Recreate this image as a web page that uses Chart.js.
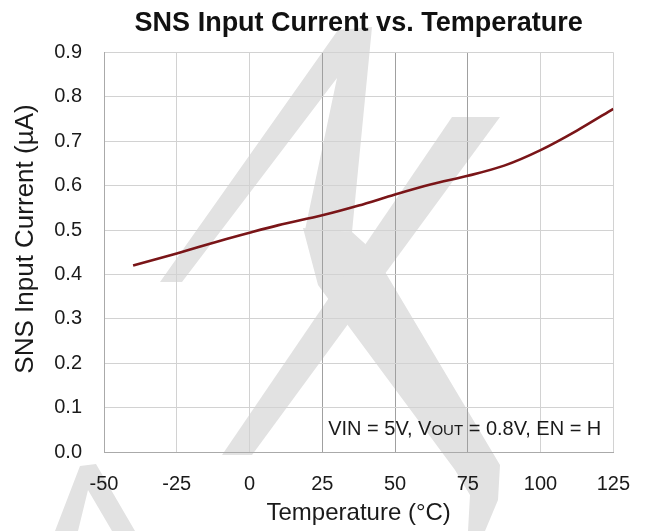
<!DOCTYPE html>
<html>
<head>
<meta charset="utf-8">
<script src="https://cdn.jsdelivr.net/npm/chart.js@4.4.1/dist/chart.umd.min.js"></script>
<style>
  html, body { margin: 0; padding: 0; background: #fff; }
  #wrap { width: 650px; height: 531px; }
</style>
</head>
<body>
<div id="wrap"><canvas id="myChart" width="650" height="531"></canvas></div>
<script>
// data
const temps = [-40, -25, -10, 0, 10, 25, 37.5, 50, 62.5, 75, 87.5, 100, 112.5, 125];
const current = [0.420, 0.447, 0.476, 0.494, 0.511, 0.533, 0.555, 0.580, 0.603, 0.622, 0.645, 0.680, 0.724, 0.773];
const xTicks = [-50, -25, 0, 25, 50, 75, 100, 125];
const yTicks = [0, 0.1, 0.2, 0.3, 0.4, 0.5, 0.6, 0.7, 0.8, 0.9];

const FONT = "Arial, 'Liberation Sans', Helvetica, sans-serif";

// light grey logo in the background
const watermark = {
    id: 'watermark',
    beforeDraw(chart) {
        const c = chart.ctx;
        const shapes = [
            [[160,282],[338,30],[372,27],[352,232],[305,230],[337,78],[182,282]],
            [[303,228],[352,232],[372,250],[500,465],[498,500],[485,531],[468,531],[470,495],[455,470],[318,285]],
            [[222,455],[252,455],[500,117],[452,117]],
            [[55,531],[80,466],[96,464],[135,531],[112,531],[88,490],[78,531]]
        ];
        c.save();
        c.fillStyle = '#e2e2e2';
        shapes.forEach(s => {
            c.beginPath();
            s.forEach((p, i) => i ? c.lineTo(p[0], p[1]) : c.moveTo(p[0], p[1]));
            c.closePath();
            c.fill();
        });
        c.restore();
    }
};

// y axis title and the test-condition note
const labels = {
    id: 'labels',
    afterDraw(chart) {
        const c = chart.ctx;
        const a = chart.chartArea;
        c.save();
        c.fillStyle = '#1a1a1a';
        c.translate(26, 239);
        c.rotate(-Math.PI / 2);
        c.font = '26px ' + FONT;
        c.textAlign = 'center';
        c.textBaseline = 'middle';
        c.fillText('SNS Input Current (µA)', 0, 0);
        c.restore();

        c.save();
        c.fillStyle = '#1a1a1a';
        c.textBaseline = 'alphabetic';
        const big = '20px ' + FONT, small = '15px ' + FONT;
        const parts = [['VIN = 5V, V', big], ['OUT', small], [' = 0.8V, EN = H', big]];
        let w = 0;
        parts.forEach(p => { c.font = p[1]; w += c.measureText(p[0]).width; });
        let x = a.right - 12 - w;
        const y = 435;
        parts.forEach(p => {
            c.font = p[1];
            c.fillText(p[0], x, y);
            x += c.measureText(p[0]).width;
        });
        c.restore();
    }
};

const ctx = document.getElementById('myChart').getContext('2d');

const data = {
    datasets: [{
        data: temps.map((t, i) => ({ x: t, y: current[i] })),
        borderColor: '#7a1518',
        borderWidth: 2.6,
        pointRadius: 0,
        tension: 0.3,
        fill: false
    }]
};

const config = {
    type: 'line',
    data: data,
    options: {
        responsive: false,
        animation: false,
        layout: { padding: { left: 0, right: 33, top: 0, bottom: 0 } },
        plugins: {
            legend: { display: false },
            tooltip: { enabled: false },
            title: {
                display: true,
                text: 'SNS Input Current vs. Temperature',
                fullSize: false,
                color: '#111',
                font: { family: FONT, size: 27, weight: 'bold' },
                padding: { top: 7, bottom: 13 }
            }
        },
        scales: {
            x: {
                type: 'linear',
                min: -50,
                max: 125,
                afterBuildTicks: s => { s.ticks = xTicks.map(v => ({ value: v })); },
                afterFit: s => { s.height = 79; },
                ticks: {
                    color: '#1a1a1a',
                    padding: 20,
                    font: { family: FONT, size: 20 }
                },
                grid: {
                    drawTicks: false,
                    color: c => [25, 50, 75].includes(c.tick && c.tick.value) ? '#a0a0a0' : '#d2d2d2'
                },
                border: { color: '#aaaaaa' },
                title: {
                    display: true,
                    text: 'Temperature (°C)',
                    color: '#1a1a1a',
                    font: { family: FONT, size: 24 },
                    padding: { top: 0, bottom: 3 }
                }
            },
            y: {
                min: 0,
                max: 0.9,
                afterBuildTicks: s => { s.ticks = yTicks.map(v => ({ value: v })); },
                afterFit: s => { s.width = 104; },
                ticks: {
                    color: '#1a1a1a',
                    padding: 22,
                    font: { family: FONT, size: 20 },
                    callback: v => v.toFixed(1)
                },
                grid: { drawTicks: false, color: '#d2d2d2' },
                border: { color: '#aaaaaa' }
            }
        }
    },
    plugins: [watermark, labels]
};

const myLineChart = new Chart(ctx, config);
</script>
</body>
</html>
